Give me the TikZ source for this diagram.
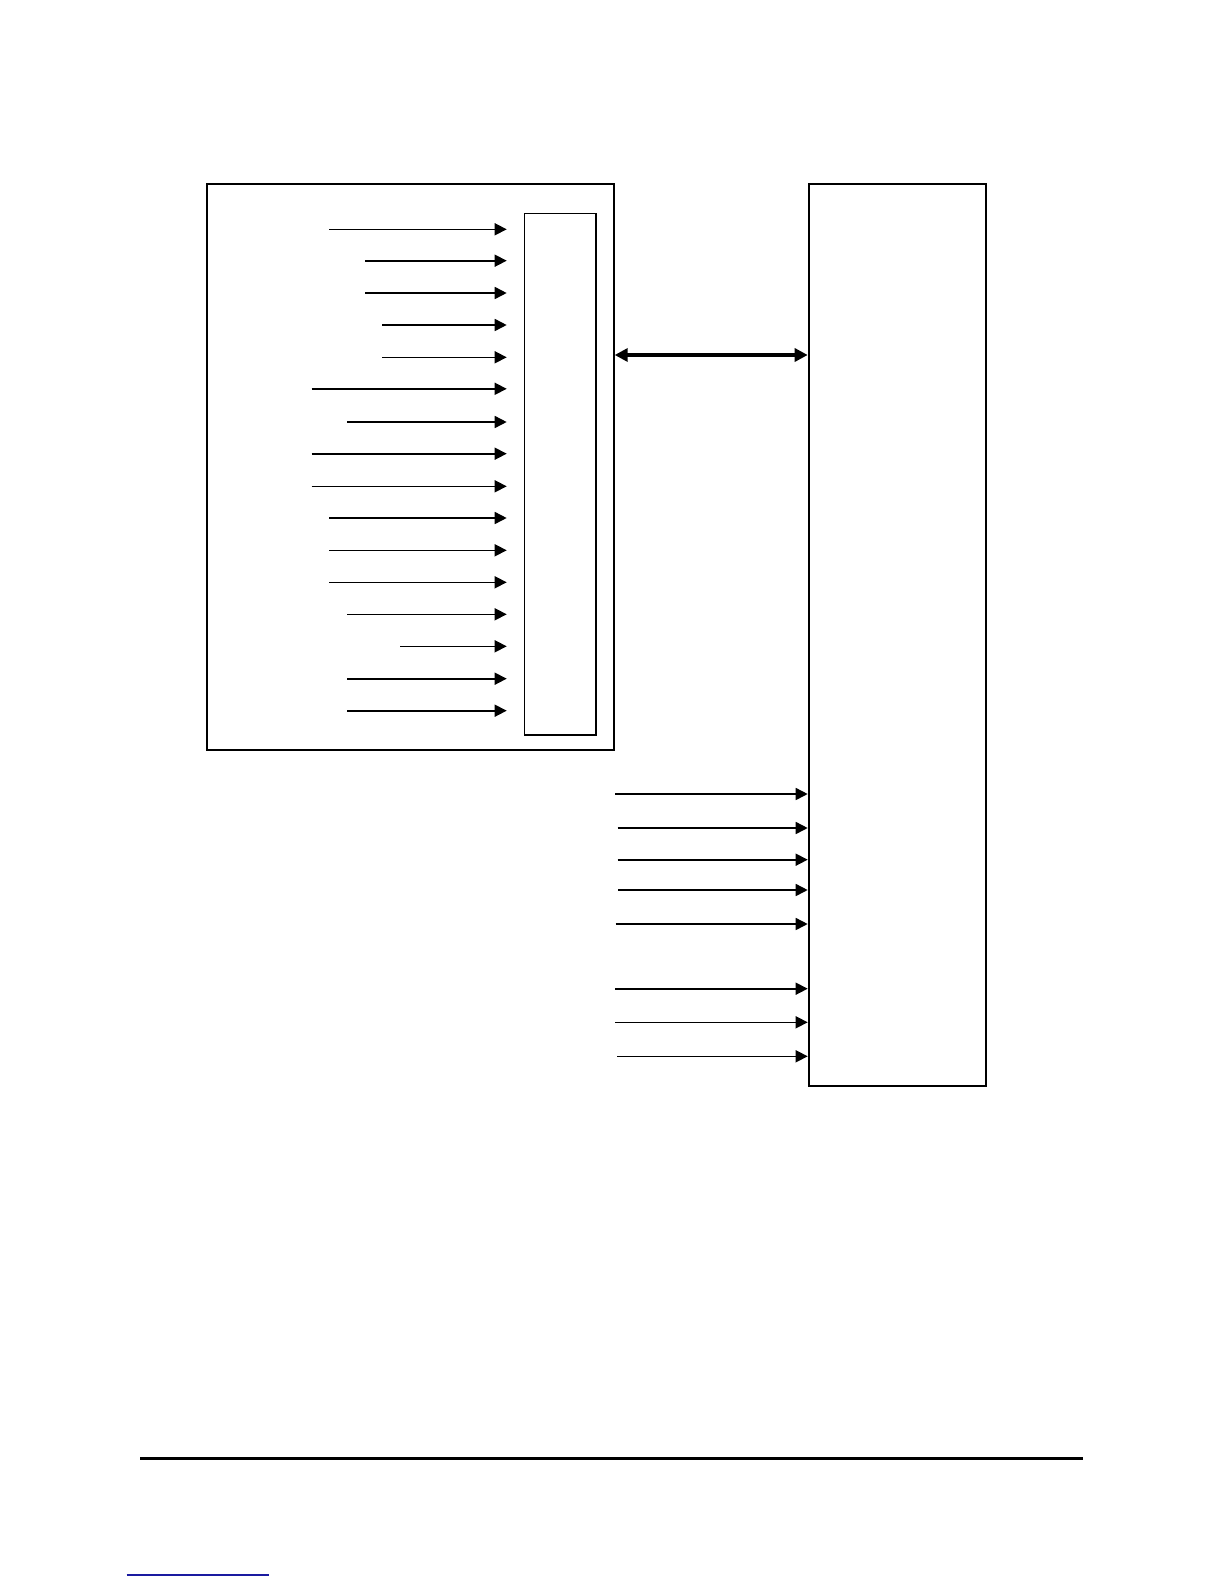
\documentclass[tikz,border=0pt]{standalone}
\usetikzlibrary{arrows.meta}
\begin{document}
\begin{tikzpicture}[x=0.5pt,y=-0.5pt,
  box/.style={draw,line width=1pt,inner sep=0pt,anchor=north west},
  slot/.style={draw,line width=0.7pt,inner sep=0pt,anchor=north west},
  sig/.style={line width=0.8pt,-{Triangle[length=6pt,width=6pt]}},
  bus/.style={line width=2pt,{Triangle[length=6.5pt,width=6.5pt]}-{Triangle[length=6.5pt,width=6.5pt]}}]
\useasboundingbox (0,0) rectangle (1224,1584);
% boxes
\node[box,minimum width=203.5pt,minimum height=283pt] (outer) at (205.7,183.3) {};
\node[slot,minimum width=35.7pt,minimum height=260.8pt] (inner) at (524,212.7) {};
\node[box,minimum width=88.6pt,minimum height=450.8pt] (right) at (807.7,183.3) {};
% left signals
\foreach \i/\y/\xs in {1/229.3/329.3,2/260.7/365,3/293/365,4/325/382.3,5/357.3/382.3,6/388.8/311.7,7/422/347.3,8/453.7/311.7,9/486.3/311.7,10/518/329.3,11/550.3/329.3,12/582.3/329.3,13/614.3/347.3,14/646.3/400,15/678.7/347.3,16/710.7/347.3}{
  \coordinate (ls\i) at (\xs,\y);
  \coordinate (le\i) at (506.7,\y);
  \draw[sig] (ls\i) -- (le\i);
}
% bus
\draw[bus] (outer.east |- 0,355) -- (right.west |- 0,355);
% right signals
\foreach \i/\y/\xs in {1/794/615,2/828/617.7,3/859.7/617.7,4/890/618.3,5/924/615.7,6/988.7/615,7/1022.3/615,8/1056.3/617}{
  \coordinate (rs\i) at (\xs,\y);
  \draw[sig] (rs\i) -- (right.west |- rs\i);
}
% footer rule
\coordinate (f1) at (140.4,1458);
\coordinate (f2) at (1082.7,1458);
\draw[line width=1.5pt] (f1) -- (f2);
% blue link underline
\coordinate (b1) at (126.7,1574.7);
\coordinate (b2) at (269,1574.7);
\draw[line width=0.8pt,color={rgb,255:red,26;green,26;blue,160}] (b1) -- (b2);
\end{tikzpicture}
\end{document}
